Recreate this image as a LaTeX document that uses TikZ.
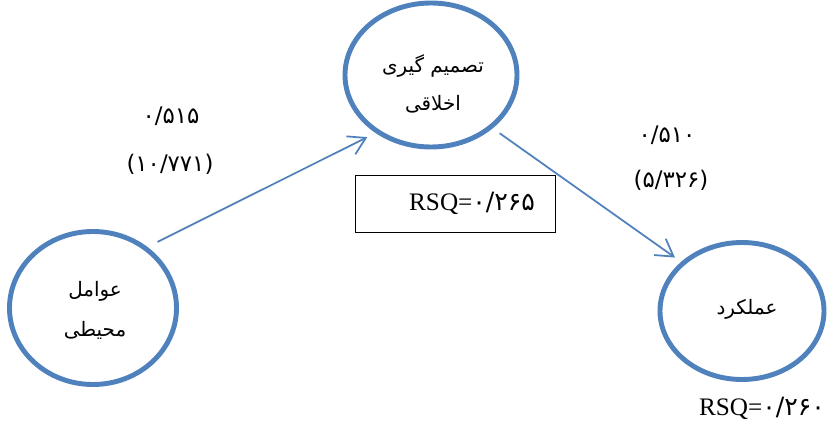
\documentclass[tikz,border=0pt]{standalone}
\usepackage{fontspec}
\setmainfont{Liberation Serif}
\newfontfamily\arabicfont[Script=Arabic]{DejaVu Sans}
\TeXXeTstate=1
\newcommand{\fatext}[1]{{\arabicfont\beginR #1\endR}}
\usetikzlibrary{positioning, arrows.meta, shapes.geometric}
\definecolor{ringblue}{HTML}{4F81BD}

\begin{document}
\begin{tikzpicture}[
            x=0.03cm, y=-0.03cm,
            >={Straight Barb[length=5mm, width=6mm]},
            construct/.style={ellipse, draw=ringblue, line width=4.2pt, inner sep=0pt, outer sep=0pt},
            name text/.style={inner sep=0pt, align=center, font=\fontsize{17}{30}\selectfont},
            link/.style={->, draw=ringblue, line width=1.5pt},
            coef/.style={inner sep=0pt, font=\arabicfont\fontsize{19.5}{22}\selectfont},
            rsqbox/.style={draw=black, line width=0.8pt, minimum height=1.71cm, text width=4.8cm, inner xsep=0.6cm, align=right, font=\fontsize{21.5}{25}\selectfont},
            rsq/.style={inner sep=0pt, font=\fontsize{21.5}{25}\selectfont},
        ]
            \useasboundingbox (0,0) rectangle (827,423);

            % Draw the three constructs
            \node[construct, minimum width=5.16cm, minimum height=4.32cm] (ethic) at (431,75) {};
            \node[construct, minimum width=5.01cm, minimum height=4.59cm] (env) at (93,308) {};
            \node[construct, minimum width=4.92cm, minimum height=4.11cm] (perf) at (742,311) {};

            % Names of the constructs
            \node[name text] (ethic-name) at (433,84) {\fatext{تصمیم گیری}\\[2pt]\fatext{اخلاقی}};
            \node[name text] (env-name) at (95,310) {\fatext{عوامل}\\[4pt]\fatext{محیطی}};
            \node[name text] (perf-name) at (747,309) {\fatext{عملکرد}};

            % Paths between the constructs
            \draw[link, shorten <=0.42cm, shorten >=0.36cm] (env.49) -- (ethic.227);
            \draw[link, shorten <=0.33cm, shorten >=0.30cm] (ethic.-41) -- (perf.141);

            % Path coefficients
            \node[coef] (c1) at (171,116) {۰/۵۱۵};
            \node[coef] (t1) at (170,164) {(۱۰/۷۷۱)};
            \node[coef] (c2) at (667,135) {۰/۵۱۰};
            \node[coef] (t2) at (671,180) {(۵/۳۲۶)};

            % R squared values
            \node[rsqbox] (rsq1) at (455,203.5) {RSQ={\arabicfont ۰/۲۶۵}};
            \node[rsq] (rsq2) at (762,408) {RSQ={\arabicfont ۰/۲۶۰}};
        \end{tikzpicture}
\end{document}
